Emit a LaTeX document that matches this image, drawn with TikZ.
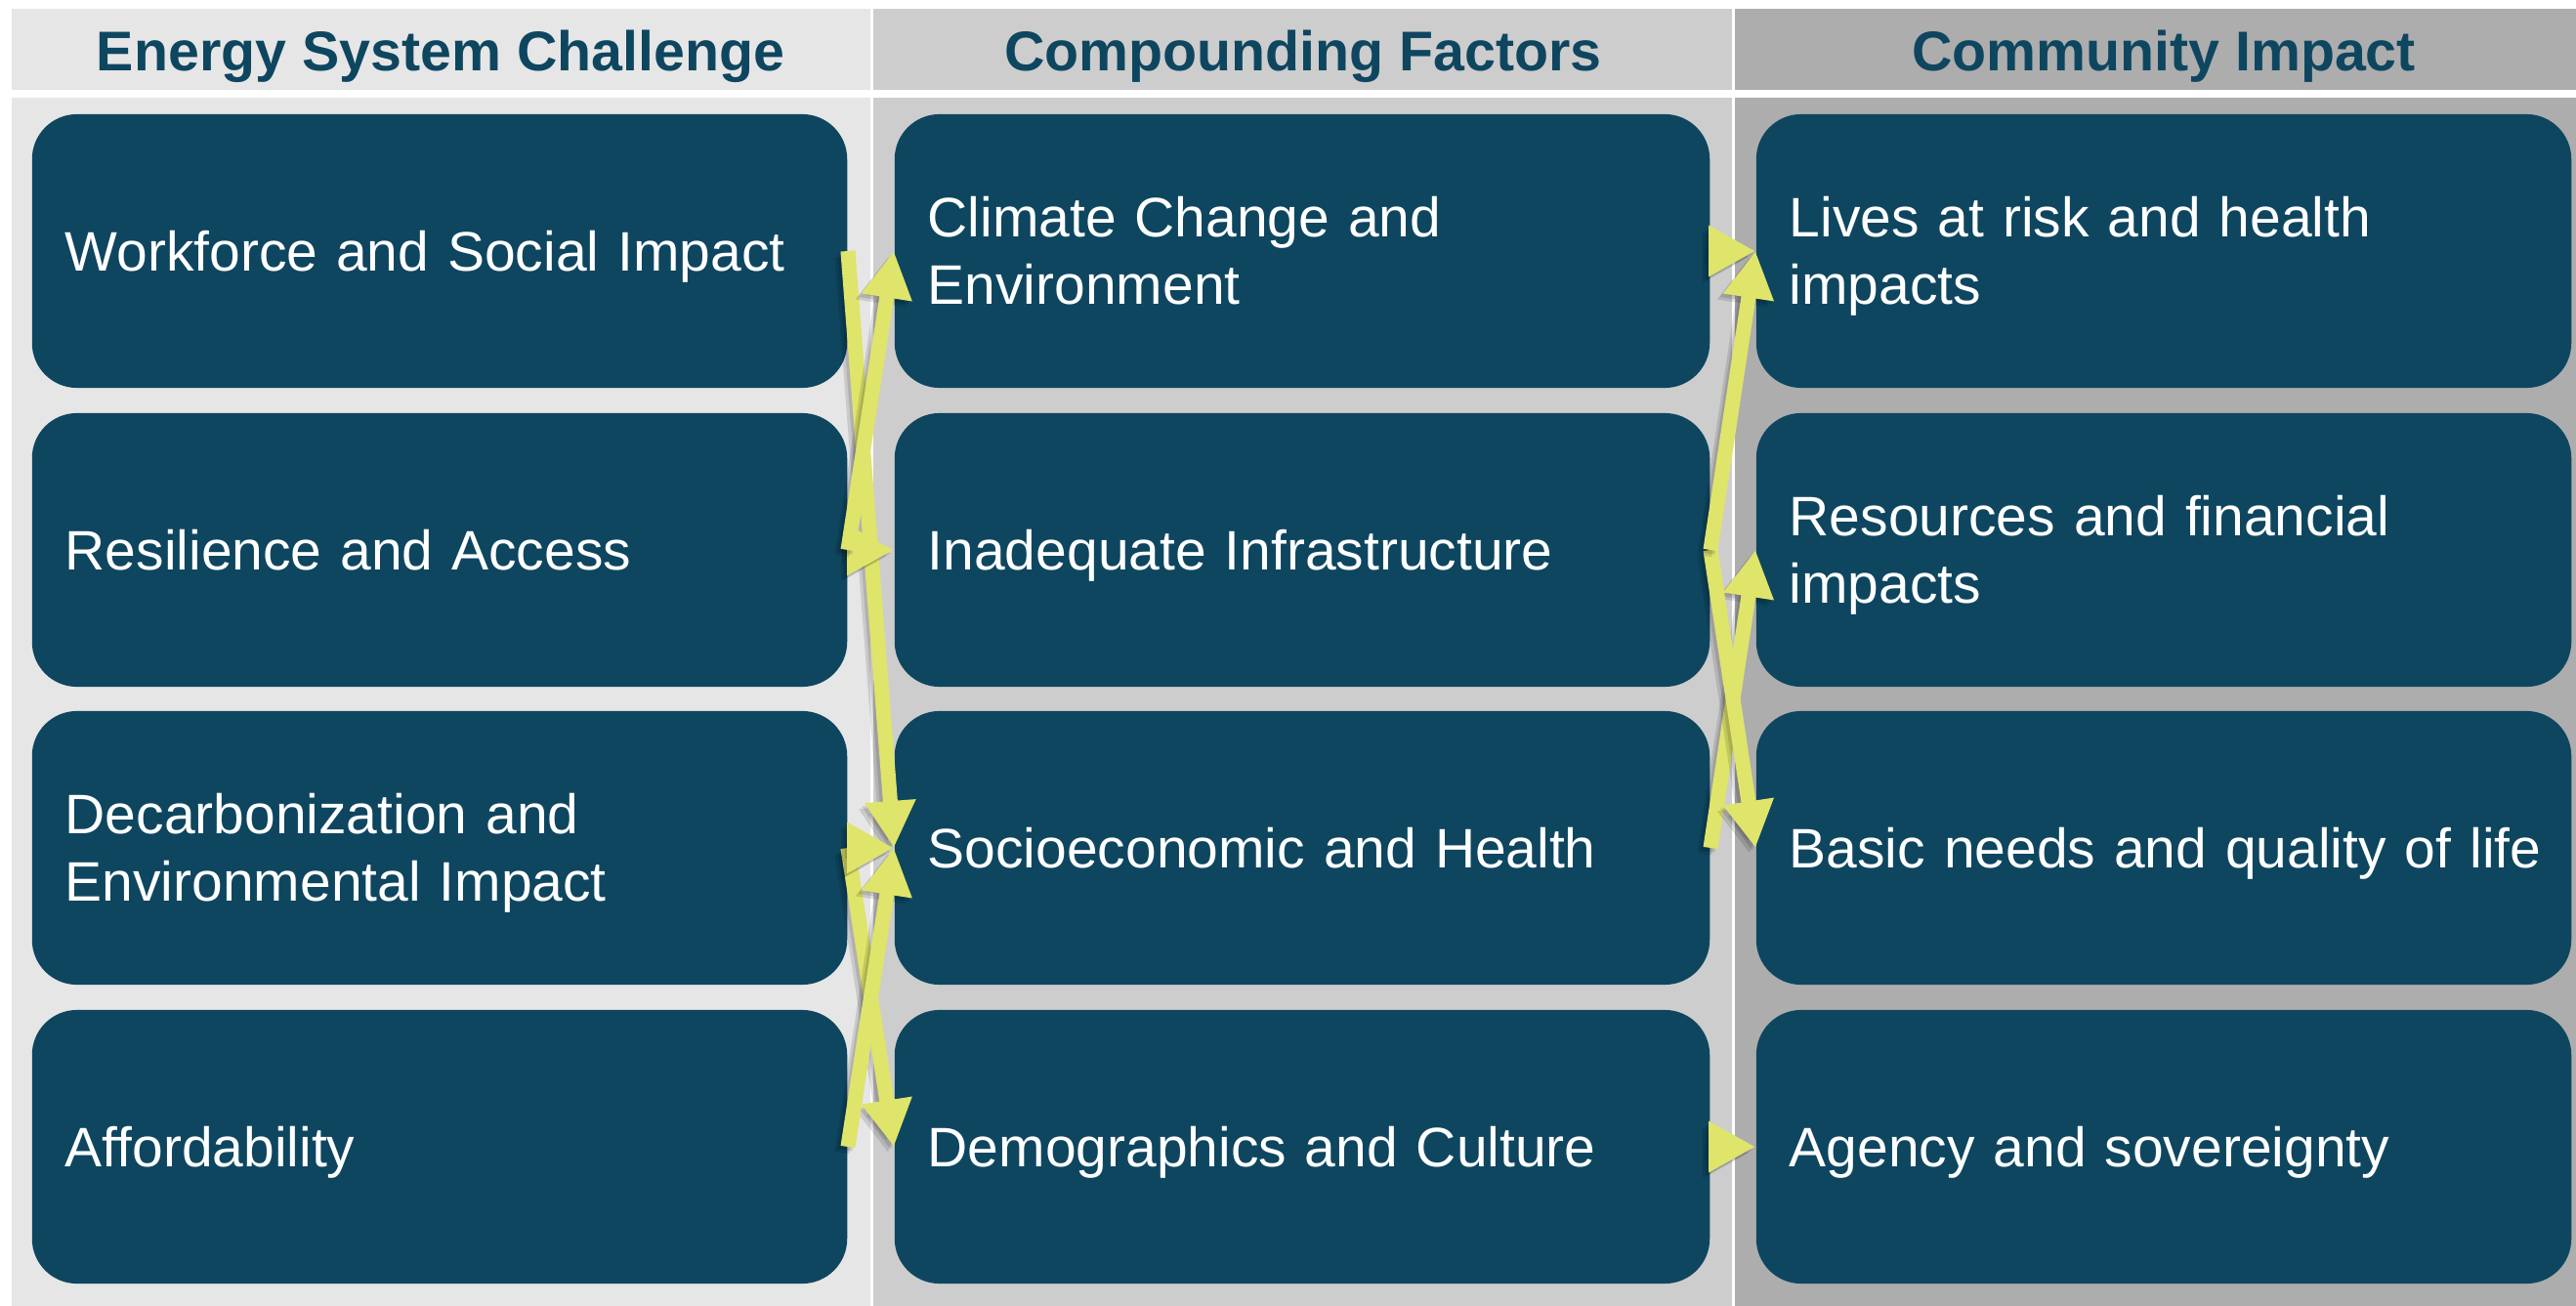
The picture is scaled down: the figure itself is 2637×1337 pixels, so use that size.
\documentclass[tikz,border=0pt]{standalone}
\usepackage{fontspec}
\setmainfont{Liberation Sans}
\usetikzlibrary{arrows.meta}
\definecolor{boxc}{HTML}{0E4660}
\definecolor{arrc}{HTML}{DFE46B}
\definecolor{bgA}{HTML}{E6E6E6}
\definecolor{bgB}{HTML}{CDCDCD}
\definecolor{bgC}{HTML}{ADADAD}
\newcommand{\hdstrut}{\rule[-0.22em]{0pt}{1.156em}}
\newcommand{\lnstrut}{\hspace*{0.08cm}\rule[-0.22em]{0pt}{1.156em}}
\newcommand{\arrowlink}[2]{%
  \draw[arrshadow] (#1.east) -- (#2.west);
  \draw[arrshadowb] (#1.east) -- (#2.west);
  \draw[arrlink] (#1.east) -- (#2.west);}
\begin{document}
\begin{tikzpicture}[x=0.01cm,y=-0.01cm,
  headtxt/.style={text=boxc,font=\fontsize{16.3pt}{19.6pt}\selectfont\bfseries,inner sep=0pt},
  card/.style={fill=boxc,rounded corners=0.46cm,text=white,
    font=\fontsize{16.2pt}{19.6pt}\selectfont,
    text width=7.82cm,inner xsep=0.26cm,inner ysep=0pt,
    minimum height=2.8cm,align=left},
  arrlink/.style={draw=arrc,line width=0.15cm,
    -{Triangle[length=0.48cm,width=0.49cm]}},
  arrshadow/.style={draw=black,draw opacity=0.12,fill opacity=0.12,line width=0.15cm,
    -{Triangle[length=0.48cm,width=0.49cm]},
    transform canvas={shift={(-0.06cm,-0.06cm)}}},
  arrshadowb/.style={draw=black,draw opacity=0.12,fill opacity=0.12,line width=0.15cm,
    -{Triangle[length=0.48cm,width=0.49cm]},
    transform canvas={shift={(-0.03cm,-0.035cm)}}}
]
\useasboundingbox (0,0) rectangle (2637,1337);
\fill[white] (0,0) rectangle (2637,1337);
% column headers
\fill[bgA] (12,9) rectangle (891,92);
\fill[bgB] (894,9) rectangle (1773,92);
\fill[bgC] (1776,9) rectangle (2637,92);
% column bodies
\fill[bgA] (12,100) rectangle (891,1337);
\fill[bgB] (894,100) rectangle (1773,1337);
\fill[bgC] (1776,100) rectangle (2637,1337);
\node[headtxt] (h1) at (451,52) {\hdstrut Energy System Challenge};
\node[headtxt] (h2) at (1334,52) {\hdstrut Compounding Factors};
\node[headtxt] (h3) at (2215,52) {\hdstrut Community Impact};
% column 1
\node[card] (c1) at (450,257) {\lnstrut Workforce and Social Impact};
\node[card] (c2) at (450,563) {\lnstrut Resilience and Access};
\node[card] (c3) at (450,868) {\lnstrut Decarbonization and\\\lnstrut Environmental Impact};
\node[card] (c4) at (450,1174) {\lnstrut Affordability};
% column 2
\node[card] (f1) at (1333,257) {\lnstrut Climate Change and\\\lnstrut Environment};
\node[card] (f2) at (1333,563) {\lnstrut Inadequate Infrastructure};
\node[card] (f3) at (1333,868) {\lnstrut Socioeconomic and Health};
\node[card] (f4) at (1333,1174) {\lnstrut Demographics and Culture};
% column 3
\node[card] (m1) at (2215,257) {\lnstrut Lives at risk and health\\\lnstrut impacts};
\node[card] (m2) at (2215,563) {\lnstrut Resources and financial\\\lnstrut impacts};
\node[card] (m3) at (2215,868) {\lnstrut Basic needs and quality of life};
\node[card] (m4) at (2215,1174) {\lnstrut Agency and sovereignty};
% connectors column 1 -> column 2
\arrowlink{c1}{f3}
\arrowlink{c2}{f2}
\arrowlink{c2}{f1}
\arrowlink{c3}{f4}
\arrowlink{c4}{f3}
\arrowlink{c3}{f3}
% connectors column 2 -> column 3
\arrowlink{f1}{m1}
\arrowlink{f3}{m2}
\arrowlink{f2}{m3}
\arrowlink{f2}{m1}
\arrowlink{f4}{m4}
\end{tikzpicture}
\end{document}
